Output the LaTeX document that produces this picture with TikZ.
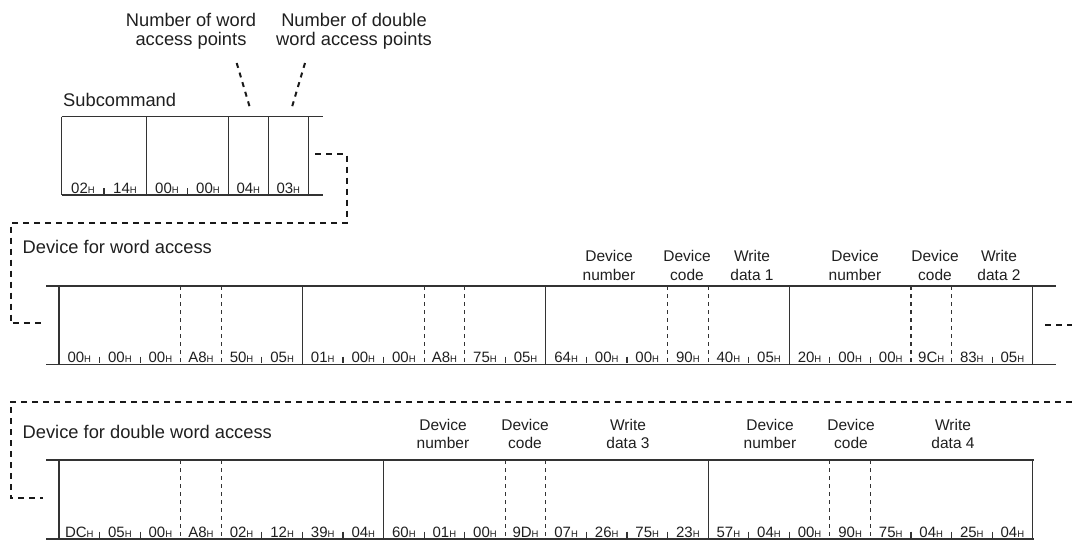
\documentclass[tikz,border=0pt]{standalone}
\usepackage{fontspec}
\setmainfont{Liberation Sans}
\newcommand{\hexv}[1]{{\fontsize{15}{15}\selectfont #1}{\fontsize{9.5}{9.5}\selectfont H}}
\begin{document}
\begin{tikzpicture}[x=1pt,y=-1pt,
  line/.style={draw=black!80, line width=1.1pt},
  inner/.style={draw=black!80, line width=1.1pt, dash pattern=on 4pt off 4pt},
  tick/.style={draw=black!80, line width=1.1pt},
  conn/.style={draw=black!90, line width=2pt, dash pattern=on 6pt off 5pt},
  lead/.style={draw=black!90, line width=2pt, dash pattern=on 5pt off 5pt},
  lbl/.style={font=\fontsize{18.3}{19}\selectfont, text=black!88, inner sep=0pt},
  col/.style={font=\fontsize{15.5}{18.5}\selectfont, text=black!88, align=center, inner sep=0pt, anchor=south},
  hex/.style={inner sep=0pt, text=black!88, anchor=base}]
\useasboundingbox (0,0) rectangle (1072,541);

% ---------- top block ----------
\node[lbl, align=center] (nw) at (191,31.5) {Number of word\\access points};
\node[lbl, align=center] (ndw) at (354,31.5) {Number of double\\word access points};
\node[lbl, anchor=base west] (sub) at (63,106) {Subcommand};
\coordinate (l1a) at (236.7,63); \coordinate (l1b) at (250,108);
\coordinate (l2a) at (305,63);   \coordinate (l2b) at (291.7,108);
\draw[lead] (l1a) -- (l1b);
\draw[lead] (l2a) -- (l2b);

\draw[line] (61.7,116.7) -- (323,116.7);
\draw[line] (61.7,195) -- (323,195);
\foreach \x in {61.7,146.7,228.3,268.3,308.3}
  \draw[line] (\x,116.7) -- (\x,195);
\foreach \x in {104,187.5}
  \draw[tick] (\x,188) -- (\x,194);
\foreach \v/\x [count=\i] in {02/83,14/125,00/167,00/208,04/248.3,03/288.3}
  \node[hex] (t\i) at (\x,193) {\hexv{\v}};

% connector from top block to word-access row
\coordinate (c1) at (315,154);
\coordinate (c2) at (346.5,154);
\coordinate (c3) at (346.5,223);
\coordinate (c4) at (10.5,223);
\coordinate (c5) at (10.5,323);
\coordinate (c6) at (43,323);
\draw[conn] (c1) -- (c2) -- (c3) -- (c4) -- (c5) -- (c6);

% ---------- word access row ----------
\node[lbl, anchor=base west] (dwa) at (22.5,253) {Device for word access};
\node[col] (wn1) at (609,280.5) {Device\\number};
\node[col] (wc1) at (687,280.5) {Device\\code};
\node[col] (wd1) at (752,280.5) {Write\\data 1};
\node[col] (wn2) at (855,280.5) {Device\\number};
\node[col] (wc2) at (935,280.5) {Device\\code};
\node[col] (wd2) at (999,280.5) {Write\\data 2};

\draw[line] (46,286) -- (1056,286);
\draw[line] (46,364.3) -- (1056,364.3);
\foreach \k in {0,6,12,18,24}
  \draw[line] ({59+\k*40.57},286) -- ({59+\k*40.57},364.3);
\foreach \k in {3,4,9,10,15,16,21,22}
  \draw[inner] ({59+\k*40.57},286) -- ({59+\k*40.57},364.3);
\foreach \k in {1,2,5,7,8,11,13,14,17,19,20,23}
  \draw[tick] ({59+\k*40.57},356.5) -- ({59+\k*40.57},363);
\foreach \v [count=\i from 0] in {00,00,00,A8,50,05,01,00,00,A8,75,05,64,00,00,90,40,05,20,00,00,9C,83,05}
  \node[hex] (m\i) at ({59+(\i+0.5)*40.57},362) {\hexv{\v}};

\coordinate (r1) at (1045,325);
\coordinate (r2) at (1072,325);
\draw[conn] (r1) -- (r2);

% ---------- double word access row ----------
\coordinate (d1) at (1072,401.5);
\coordinate (d2) at (10.5,401.5);
\coordinate (d3) at (10.5,498.3);
\coordinate (d4) at (43,498.3);
\draw[conn] (d1) -- (d2) -- (d3) -- (d4);

\node[lbl, anchor=base west] (ddwa) at (22.5,438) {Device for double word access};
\node[col] (bn1) at (443,449) {Device\\number};
\node[col] (bc1) at (525,449) {Device\\code};
\node[col] (bd1) at (628,449) {Write\\data 3};
\node[col] (bn2) at (770,449) {Device\\number};
\node[col] (bc2) at (851,449) {Device\\code};
\node[col] (bd2) at (953,449) {Write\\data 4};

\draw[line] (46,460) -- (1034.3,460);
\draw[line] (46,539) -- (1034.3,539);
\foreach \k in {0,8,16,24}
  \draw[line] ({59+\k*40.57},460) -- ({59+\k*40.57},539);
\foreach \k in {3,4,11,12,19,20}
  \draw[inner] ({59+\k*40.57},460) -- ({59+\k*40.57},539);
\foreach \k in {1,2,5,6,7,9,10,13,14,15,17,18,21,22,23}
  \draw[tick] ({59+\k*40.57},531.5) -- ({59+\k*40.57},538);
\foreach \v [count=\i from 0] in {DC,05,00,A8,02,12,39,04,60,01,00,9D,07,26,75,23,57,04,00,90,75,04,25,04}
  \node[hex] (b\i) at ({59+(\i+0.5)*40.57},537) {\hexv{\v}};
\end{tikzpicture}
\end{document}
